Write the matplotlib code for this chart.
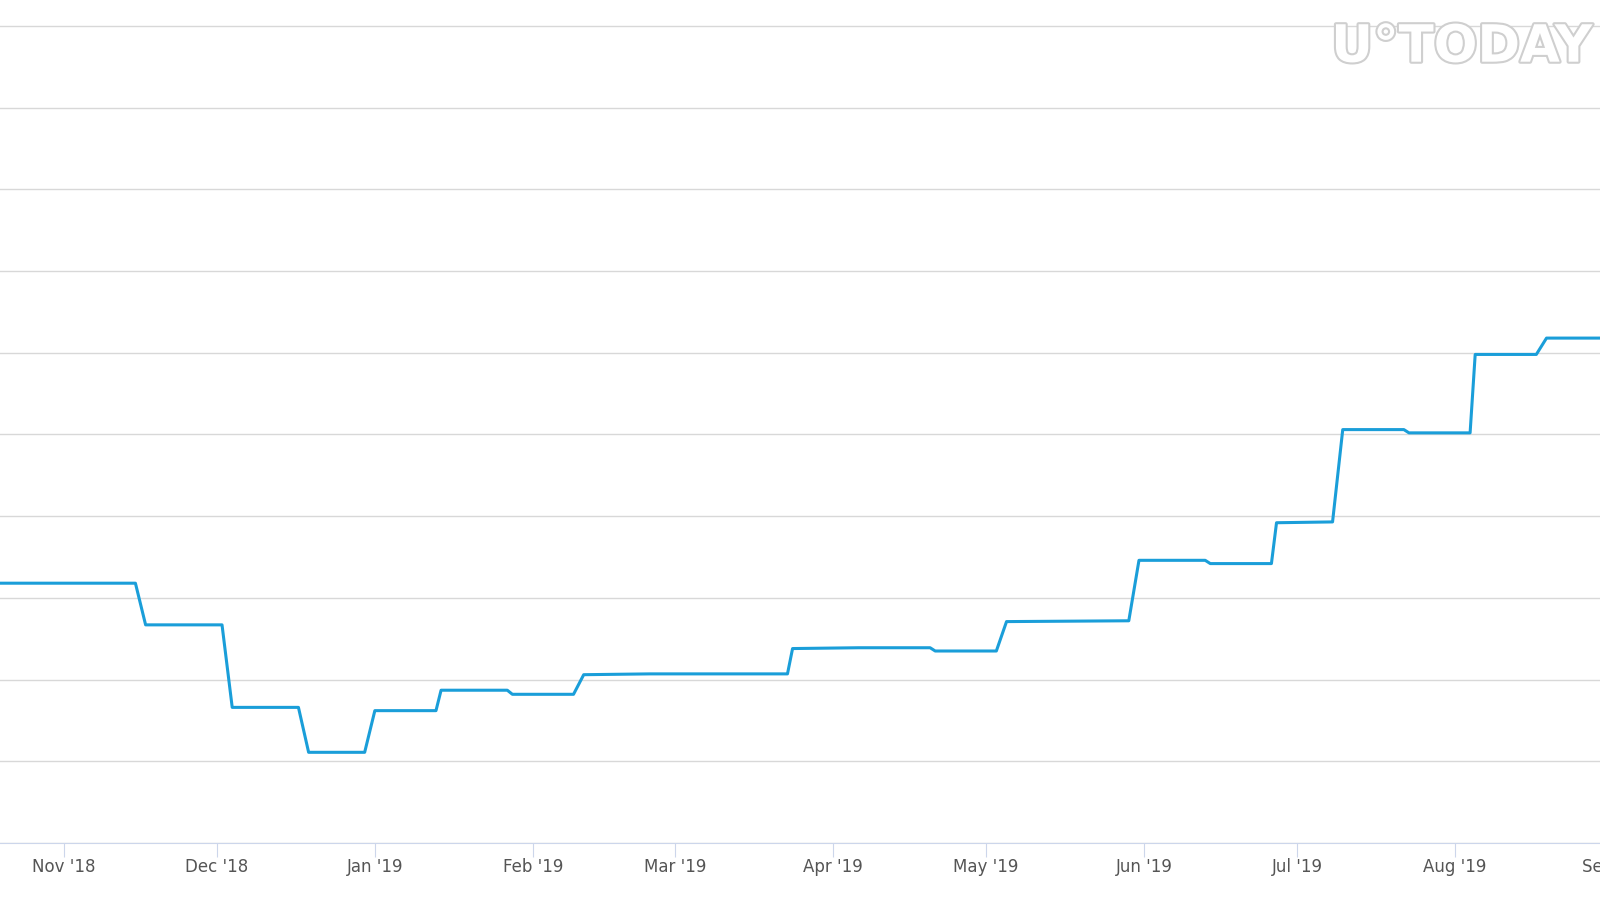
import numpy as np
import pandas as pd
import matplotlib.pyplot as plt
import matplotlib.dates as mdates
import matplotlib.patheffects as pe

# step line (value in grid units, grid every 1.0)
dates = ["2018-10-19", "2018-11-15", "2018-11-17", "2018-12-02", "2018-12-04",
         "2018-12-17", "2018-12-19", "2018-12-30", "2019-01-01", "2019-01-13",
         "2019-01-14", "2019-01-27", "2019-01-28", "2019-02-09", "2019-02-11",
         "2019-02-24", "2019-03-23", "2019-03-24", "2019-04-06", "2019-04-20",
         "2019-04-21", "2019-05-03", "2019-05-05", "2019-05-29", "2019-05-31",
         "2019-06-13", "2019-06-14", "2019-06-26", "2019-06-27", "2019-07-08",
         "2019-07-10", "2019-07-22", "2019-07-23", "2019-08-04", "2019-08-05",
         "2019-08-17", "2019-08-19", "2019-09-01"]
values = [3.18, 3.18, 2.67, 2.67, 1.66,
          1.66, 1.11, 1.11, 1.62, 1.62,
          1.87, 1.87, 1.82, 1.82, 2.06,
          2.07, 2.07, 2.38, 2.39, 2.39,
          2.35, 2.35, 2.71, 2.72, 3.46,
          3.46, 3.42, 3.42, 3.92, 3.93,
          5.06, 5.06, 5.02, 5.02, 5.98,
          5.98, 6.18, 6.18]

x = pd.to_datetime(dates)

fig = plt.figure(figsize=(16, 9), dpi=100)
ax = fig.add_axes([0, 57 / 900, 1, 843 / 900])
ax.plot(x, values, color='#1a9ed9', lw=2.2)

ax.set_xlim(pd.Timestamp("2018-10-19 10:00"), pd.Timestamp("2019-08-29 12:00"))
ax.set_ylim(0, 843 / 81.7)
ax.set_yticks(np.arange(0, 11, 1))
ax.yaxis.grid(True, color='#d8d8d8', lw=1)
ax.tick_params(axis='y', left=False, labelleft=False)
ax.xaxis.set_major_locator(mdates.MonthLocator())
ax.xaxis.set_major_formatter(mdates.DateFormatter("%b '%y"))
ax.tick_params(axis='x', colors='#ccd6eb', labelcolor='#555555', labelsize=12, length=10, pad=1)
for s in ['top', 'left', 'right']:
    ax.spines[s].set_visible(False)
ax.spines['bottom'].set_color('#ccd6eb')

# September label sits past the right edge and is cut off, as in the original
ax.annotate("Sep '19", xy=(mdates.date2num(pd.Timestamp("2019-09-01")), 0),
            xycoords=('data', 'axes fraction'), xytext=(0, -11),
            textcoords='offset points', ha='center', va='top',
            fontsize=12, color='#555555', annotation_clip=False)

fig.text(0.995, 0.947, "U°TODAY", ha='right', va='center', fontsize=37,
         fontweight='bold', color='white',
         path_effects=[pe.withStroke(linewidth=3, foreground='#cfcfcf')])

fig.savefig("out.png")
